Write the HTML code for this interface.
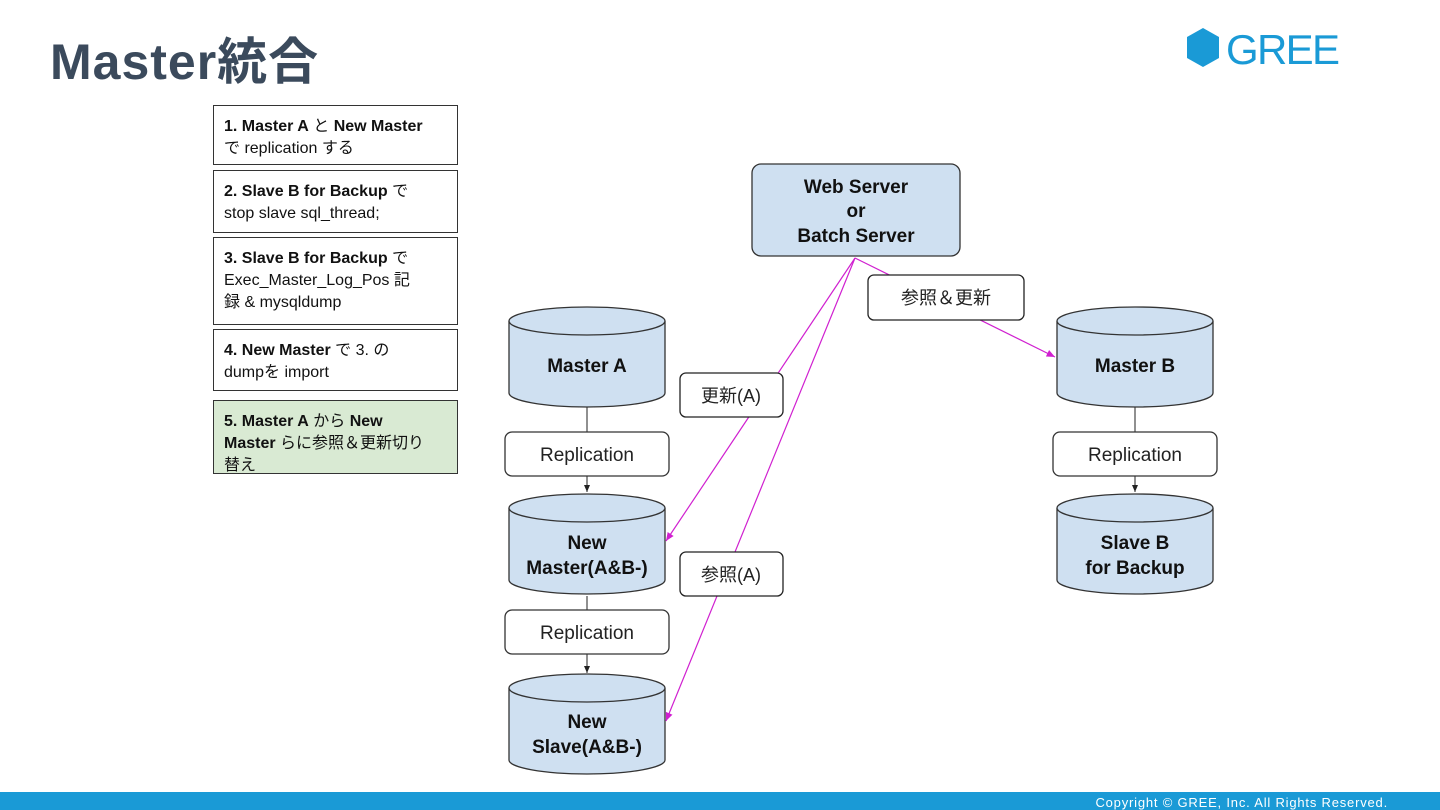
<!DOCTYPE html>
<html><head><meta charset="utf-8"><style>
body{margin:0;width:1440px;height:810px;background:#fff;position:relative;overflow:hidden;font-family:"Liberation Sans","Noto Sans CJK JP",sans-serif}
.t{position:absolute;left:50px;top:22px;font-size:50px;font-weight:bold;color:#3b4a5c;letter-spacing:1px}
.b{position:absolute;left:213px;width:233px;border:1px solid #333;padding:10px 0 0 10px;font-size:16px;line-height:22px;color:#111;box-sizing:content-box}
.foot{position:absolute;left:0;top:792px;width:1440px;height:18px;background:#1a9ad6;color:#fff;font-size:13px;text-align:right}
</style></head><body>
<div class="t">Master統合</div>
<svg style="position:absolute;left:1186px;top:27px" width="160" height="44"><polygon points="17,1 33,10 33,31 17,40 1,31 1,10" fill="#1a9ad6"/><text x="40" y="37" font-size="42" fill="#1a9ad6" font-family="Liberation Sans" textLength="114">GREE</text></svg>
<div class="b" style="top:105px;height:48px"><b>1. Master A</b> と <b>New Master</b><br>で replication する</div>
<div class="b" style="top:170px;height:51px"><b>2. Slave B for Backup</b> で<br>stop slave sql_thread;</div>
<div class="b" style="top:237px;height:76px"><b>3. Slave B for Backup</b> で<br>Exec_Master_Log_Pos 記<br>録 &amp; mysqldump</div>
<div class="b" style="top:329px;height:50px"><b>4. New Master</b> で 3. の<br>dumpを import</div>
<div class="b" style="top:400px;height:62px;background:#d9ead3"><b>5. Master A</b> から <b>New<br>Master</b> らに参照＆更新切り<br>替え</div>
<svg style="position:absolute;left:0;top:0" width="1440" height="810" font-family="Liberation Sans,Noto Sans CJK JP,sans-serif">
<defs><marker id="a" markerWidth="8" markerHeight="8" refX="7" refY="4" orient="auto"><path d="M0,1 L7,4 L0,7z" fill="#222"/></marker>
<marker id="m" markerWidth="8" markerHeight="8" refX="7" refY="4" orient="auto"><path d="M0,1 L7,4 L0,7z" fill="#d020d0"/></marker>
<g id="cyl"><path d="M0,14 L0,86 A78,14 0 0 0 156,86 L156,14" fill="#cfe0f1" stroke="#333" stroke-width="1.3"/><ellipse cx="78" cy="14" rx="78" ry="14" fill="#cfe0f1" stroke="#333" stroke-width="1.3"/></g></defs>
<line x1="587" y1="407" x2="587" y2="492" stroke="#222" marker-end="url(#a)"/>
<line x1="587" y1="596" x2="587" y2="673" stroke="#222" marker-end="url(#a)"/>
<line x1="1135" y1="407" x2="1135" y2="492" stroke="#222" marker-end="url(#a)"/>
<use href="#cyl" x="509" y="307"/><use href="#cyl" x="509" y="494"/><use href="#cyl" x="509" y="674"/>
<use href="#cyl" x="1057" y="307"/><use href="#cyl" x="1057" y="494"/>
<g font-weight="bold" font-size="19" text-anchor="middle" fill="#111">
<text x="587" y="372">Master A</text><text x="587" y="549">New</text><text x="587" y="574">Master(A&amp;B-)</text>
<text x="587" y="728">New</text><text x="587" y="753">Slave(A&amp;B-)</text>
<text x="1135" y="372">Master B</text><text x="1135" y="549">Slave B</text><text x="1135" y="574">for Backup</text></g>
<rect x="752" y="164" width="208" height="92" rx="9" fill="#cfe0f1" stroke="#333" stroke-width="1.3"/>
<g font-weight="bold" font-size="19" text-anchor="middle" fill="#111"><text x="856" y="193">Web Server</text><text x="856" y="217">or</text><text x="856" y="242">Batch Server</text></g>
<g fill="#fff" stroke="#333" stroke-width="1.3"><rect x="505" y="432" width="164" height="44" rx="7"/><rect x="505" y="610" width="164" height="44" rx="7"/><rect x="1053" y="432" width="164" height="44" rx="7"/></g>
<g font-size="19" text-anchor="middle" fill="#222"><text x="587" y="461">Replication</text><text x="587" y="639">Replication</text><text x="1135" y="461">Replication</text></g>
<g stroke="#d020d0" stroke-width="1.2" fill="none"><line x1="855" y1="258" x2="666" y2="541" marker-end="url(#m)"/><line x1="855" y1="258" x2="666" y2="721" marker-end="url(#m)"/><line x1="855" y1="258" x2="1055" y2="357" marker-end="url(#m)"/></g>
<g fill="#fff" stroke="#222" stroke-width="1.3"><rect x="868" y="275" width="156" height="45" rx="6"/><rect x="680" y="373" width="103" height="44" rx="6"/><rect x="680" y="552" width="103" height="44" rx="6"/></g>
<g font-size="18" text-anchor="middle" fill="#222"><text x="946" y="304">参照＆更新</text><text x="731" y="402">更新(A)</text><text x="731" y="581">参照(A)</text></g>
</svg>
<div class="foot"><span style="position:relative;top:3px;right:52px;letter-spacing:0.8px">Copyright © GREE, Inc. All Rights Reserved.</span></div>
</body></html>
